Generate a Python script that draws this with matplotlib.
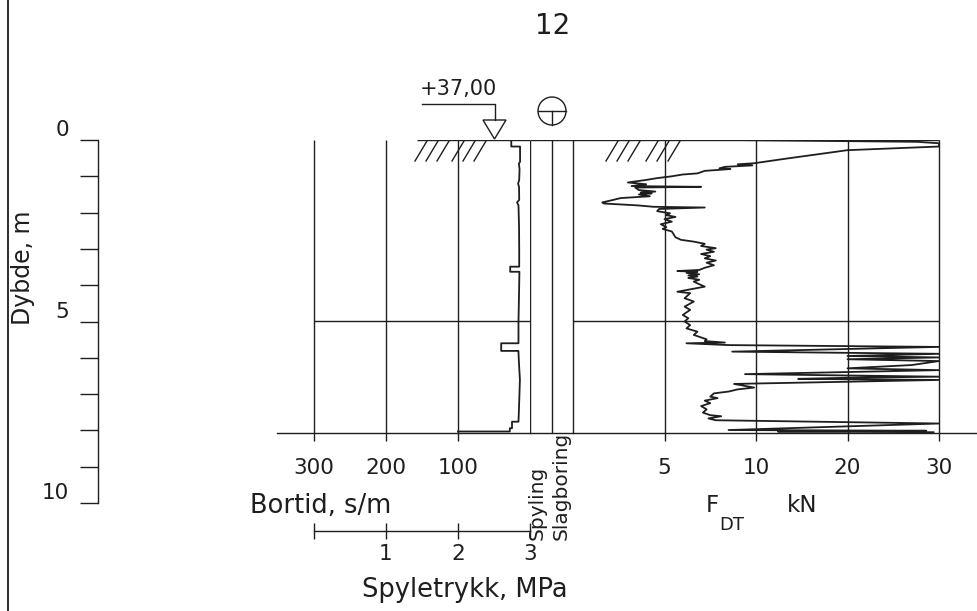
import numpy as np
import matplotlib.pyplot as plt
from matplotlib.patches import Circle, Polygon

plt.rcParams['font.family'] = ['DejaVu Sans']

# --- data ---
hole_no = '12'
elevation = '+37,00'

# bortid (s/m) vs depth (m)
bortid_depth = [0.00, 0.18, 0.18, 0.60, 0.65, 0.80, 1.10, 1.20, 1.30, 1.65, 1.72, 1.80,
                2.40, 3.00, 3.49, 3.49, 3.63, 3.63, 4.50, 5.00, 5.60, 5.60, 5.81, 5.81,
                6.20, 6.60, 6.90, 7.20, 7.50, 7.76, 7.76, 7.94, 7.94, 8.03, 8.03]
bortid_val = [26.0, 26.0, 13.8, 13.8, 15.5, 14.5, 15.0, 16.5, 15.2, 15.0, 18.0, 16.0,
              15.2, 15.0, 15.0, 27.5, 27.5, 14.7, 15.5, 16.0, 16.0, 40.0, 40.0, 16.1,
              15.2, 14.0, 14.5, 15.0, 15.5, 16.0, 25.0, 25.0, 28.0, 28.0, 100.0]

# F_DT (kN) vs depth (m)
fdt_depth = [0.00, 0.00, 0.05, 0.09, 0.18, 0.28, 0.52, 0.64, 0.67, 0.70, 0.74, 0.78,
             0.80, 0.85, 0.92, 0.95, 1.00, 1.05, 1.10, 1.17, 1.22, 1.27, 1.29, 1.31,
             1.38, 1.42, 1.45, 1.47, 1.50, 1.55, 1.60, 1.65, 1.72, 1.75, 1.80, 1.84,
             1.86, 1.88, 1.90, 1.96, 2.02, 2.07, 2.12, 2.18, 2.25, 2.32, 2.40, 2.45,
             2.52, 2.60, 2.68, 2.75, 2.80, 2.86, 2.92, 2.98, 3.02, 3.08, 3.14, 3.20,
             3.26, 3.32, 3.38, 3.45, 3.52, 3.58, 3.61, 3.63, 3.66, 3.70, 3.73, 3.76,
             3.80, 3.85, 3.90, 3.95, 4.04, 4.18, 4.22, 4.36, 4.45, 4.59, 4.68, 4.82,
             4.91, 5.00, 5.10, 5.19, 5.28, 5.37, 5.49, 5.54, 5.58, 5.60, 5.65, 5.70,
             5.83, 5.89, 5.95, 5.99, 6.04, 6.09, 6.20, 6.29, 6.34, 6.45, 6.52, 6.55,
             6.58, 6.61, 6.72, 6.82, 6.87, 6.93, 6.98, 7.07, 7.11, 7.18, 7.25, 7.33,
             7.42, 7.51, 7.58, 7.61, 7.67, 7.72, 7.81, 7.99, 8.01, 8.03, 8.05]
fdt_val = [0.0, 8.6, 27.6, 30.0, 30.0, 20.0, 13.1, 9.9, 9.0, 9.8, 8.3, 8.0,
           8.6, 7.2, 6.8, 6.0, 5.4, 4.6, 4.0, 3.0, 4.0, 3.2, 7.0, 3.4,
           3.6, 4.5, 3.7, 4.3, 3.6, 4.2, 2.6, 2.2, 1.6, 1.7, 3.5, 4.4,
           7.2, 6.0, 4.7, 4.6, 5.3, 5.1, 5.6, 5.0, 5.4, 4.8, 5.1, 4.9,
           5.4, 5.5, 5.6, 5.9, 6.6, 7.2, 7.0, 7.8, 7.3, 7.7, 7.0, 7.5,
           7.2, 7.8, 7.3, 7.7, 7.2, 6.9, 5.7, 6.8, 6.2, 6.9, 6.3, 6.8,
           6.3, 6.9, 6.6, 6.8, 7.2, 5.7, 6.4, 6.1, 6.6, 6.1, 6.4, 6.0,
           6.3, 6.1, 6.4, 6.2, 6.8, 6.6, 7.3, 7.2, 8.3, 6.2, 8.5, 30.0,
           8.7, 30.0, 20.0, 30.0, 20.0, 30.0, 27.0, 20.0, 30.0, 9.4, 30.0, 20.0,
           14.6, 30.0, 8.8, 9.9, 9.0, 8.5, 7.7, 7.5, 7.9, 7.2, 7.5, 7.0,
           7.3, 7.1, 7.5, 8.1, 7.4, 7.8, 30.0, 8.5, 28.6, 12.4, 29.4]

bortid_ticks = [300, 200, 100]
fdt_ticks = [5, 10, 20, 30]
trykk_ticks = [0, 1, 2, 3]
trykk_labels = ['', '1', '2', '3']
depth_ticks = list(range(11))
depth_labels = ['0', '', '', '', '', '5', '', '', '', '', '10']

# --- layout (pixels) ---
W, H = 978, 611
ink = '#1e1e1e'
lw = 1.0
d_bot = (433 - 140) / 36.3


def box(x0, y0, x1, y1):
    return [x0 / W, 1 - y1 / H, (x1 - x0) / W, (y1 - y0) / H]


def clean(ax, keep=('bottom',)):
    for s in ['top', 'bottom', 'left', 'right']:
        ax.spines[s].set_visible(s in keep)
        ax.spines[s].set_linewidth(lw)
        ax.spines[s].set_color(ink)
    ax.set_facecolor('none')


fig = plt.figure(figsize=(W / 100, H / 100), dpi=100)

# bortid column
ax_b = fig.add_axes(box(277, 140, 530, 433))
clean(ax_b)
ax_b.set_xlim(300 + 37 / 0.72, 0)
ax_b.set_ylim(d_bot, 0)
ax_b.vlines(bortid_ticks, 0, d_bot, color=ink, lw=lw)
ax_b.hlines(0, 157, 0, color=ink, lw=lw)
ax_b.hlines(5, 300, 0, color=ink, lw=lw)
ax_b.plot(bortid_val, bortid_depth, color=ink, lw=1.3)
ax_b.set_xticks(bortid_ticks)
ax_b.set_yticks([])
ax_b.tick_params(axis='x', direction='out', length=6, width=lw, color=ink,
                 labelsize=15.5, pad=12, labelcolor=ink)

# spyling / slagboring columns
ax_s = fig.add_axes(box(530, 140, 573, 433))
clean(ax_s)
ax_s.set_xlim(0, 2)
ax_s.set_ylim(d_bot, 0)
ax_s.vlines([0, 1, 2], 0, d_bot, color=ink, lw=lw)
ax_s.hlines(0, 0, 2, color=ink, lw=lw)
ax_s.set_xticks([])
ax_s.set_yticks([])

# F_DT column, piecewise linear scale 0-5-10-20-30
f_knots = [-10, 0, 5, 10, 20, 30, 100]
u_knots = [-2, 0, 1, 2, 3, 4, 11]


def f_fwd(v):
    return np.interp(v, f_knots, u_knots)


def f_inv(u):
    return np.interp(u, u_knots, f_knots)


ax_f = fig.add_axes(box(573, 140, 978, 433))
clean(ax_f)
ax_f.set_xscale('function', functions=(f_fwd, f_inv))
ax_f.set_xlim(0, 34.26)
ax_f.set_ylim(d_bot, 0)
ax_f.vlines([0] + fdt_ticks, 0, d_bot, color=ink, lw=lw)
ax_f.hlines(0, 0, 30, color=ink, lw=lw)
ax_f.hlines(5, 0, 30, color=ink, lw=lw)
ax_f.plot(fdt_val, fdt_depth, color=ink, lw=1.3)
ax_f.set_xticks(fdt_ticks)
ax_f.set_xticks([], minor=True)
ax_f.set_yticks([])
ax_f.tick_params(axis='x', direction='out', length=6, width=lw, color=ink,
                 labelsize=15.5, pad=12, labelcolor=ink)

# spyletrykk scale
ax_p = fig.add_axes(box(314, 529.5, 530, 530.5))
clean(ax_p)
ax_p.set_xlim(0, 3)
ax_p.set_xticks(trykk_ticks, labels=trykk_labels)
ax_p.set_yticks([])
ax_p.tick_params(axis='x', direction='inout', length=12, width=lw, color=ink,
                 labelsize=15.5, pad=4, labelcolor=ink)

# depth axis
ax_d = fig.add_axes(box(98, 140, 99, 503))
clean(ax_d, keep=('left',))
ax_d.set_ylim(10, 0)
ax_d.set_xticks([])
ax_d.set_yticks(depth_ticks, labels=depth_labels)
ax_d.tick_params(axis='y', direction='out', length=13, width=lw, color=ink,
                 labelsize=15.5, pad=8, labelcolor=ink)
for t in ax_d.get_yticklabels():
    t.set_va('bottom')

# texts
fig.text(553 / W, 1 - 26 / H, hole_no, ha='center', va='center', size=20, color=ink)
fig.text(250 / W, 1 - 506 / H, 'Bortid, s/m', ha='left', va='center', size=18.5, color=ink)
fig.text(465 / W, 1 - 590 / H, 'Spyletrykk, MPa', ha='center', va='center', size=18.5, color=ink)
fig.text(706 / W, 1 - 512 / H, 'F', ha='left', va='baseline', size=16.5, color=ink)
fig.text(719 / W, 1 - 530 / H, 'DT', ha='left', va='baseline', size=13, color=ink)
fig.text(787 / W, 1 - 512 / H, 'kN', ha='left', va='baseline', size=16.5, color=ink)
fig.text(537 / W, 1 - 540 / H, 'Spyling', rotation=90, ha='center', va='bottom', size=14.5, color=ink)
fig.text(561.5 / W, 1 - 540 / H, 'Slagboring', rotation=90, ha='center', va='bottom', size=14.5, color=ink)
fig.text(23 / W, 1 - 268 / H, 'Dybde, m', rotation=90, ha='center', va='center', size=17, color=ink)

# overlay for drawing symbols in pixel units
ov = fig.add_axes([0, 0, 1, 1])
ov.set_xlim(0, W)
ov.set_ylim(H, 0)
ov.axis('off')
ov.set_facecolor('none')
ov.plot([8, 8], [0, H], color=ink, lw=1.3)
ov.text(458, 89, elevation, ha='center', va='center', size=15, color=ink)
ov.plot([422, 495, 495], [104, 104, 120], color=ink, lw=lw)
ov.add_patch(Polygon([(483, 120), (506, 120), (494.5, 139)], closed=True, fill=False, ec=ink, lw=lw))
ov.add_patch(Circle((552, 111), 14, fill=False, ec=ink, lw=lw))
ov.plot([538, 566], [111, 111], color=ink, lw=lw)
ov.plot([552, 552], [111, 125], color=ink, lw=lw)
for x0 in [415, 426, 437, 452, 463, 474, 606, 617, 628, 646, 657, 668]:
    ov.plot([x0, x0 + 12], [161, 141], color=ink, lw=lw)

fig.savefig('out.png', dpi=100, facecolor='white')
